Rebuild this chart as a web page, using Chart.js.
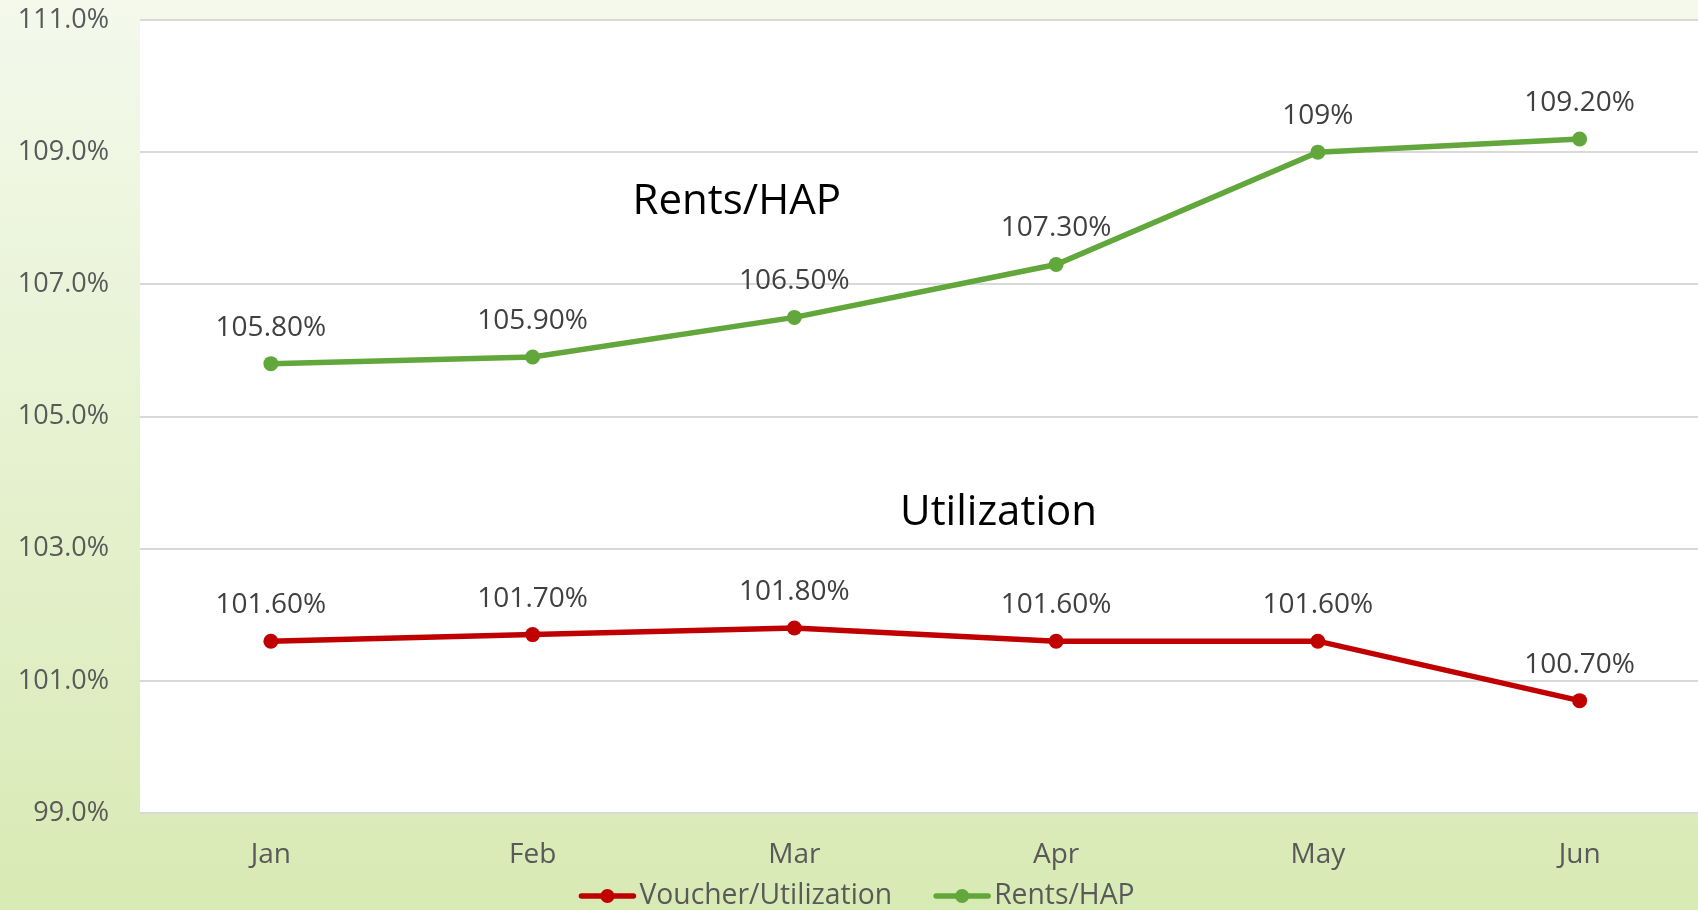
<!DOCTYPE html>
<html>
<head>
<meta charset="utf-8">
<script src="https://cdn.jsdelivr.net/npm/chart.js@4.4.0/dist/chart.umd.min.js"></script>
<style>
  html, body { margin: 0; padding: 0; overflow: hidden; }
  body { width: 1698px; height: 910px; }
  #wrap { position: relative; width: 1718px; height: 910px; }
</style>
</head>
<body>
<div id="wrap"><canvas id="chart"></canvas></div>
<script>
/* ── DATA ── */
const months       = ['Jan', 'Feb', 'Mar', 'Apr', 'May', 'Jun'];
const voucherUtil  = [101.6, 101.7, 101.8, 101.6, 101.6, 100.7];
const rentsHap     = [105.8, 105.9, 106.5, 107.3, 109.0, 109.2];
const voucherText  = ['101.60%', '101.70%', '101.80%', '101.60%', '101.60%', '100.70%'];
const rentsText    = ['105.80%', '105.90%', '106.50%', '107.30%', '109%', '109.20%'];
const yTicks       = [99, 101, 103, 105, 107, 109, 111];

// free-floating captions (category index, value)
const captions = [
  { text: 'Rents/HAP',   x: 1.78, y: 108.24 },
  { text: 'Utilization', x: 2.78, y: 103.54 }
];

const RED   = '#C00000';
const GREEN = '#62A73B';
const FONT  = "'Open Sans', 'Liberation Sans', sans-serif";

/* ── PLUGINS ── */
const bgPlugin = {
  id: 'bgFill',
  beforeDraw(chart) {
    const { ctx, width, height, chartArea: a } = chart;
    const g = ctx.createLinearGradient(0, 0, 0, height);
    g.addColorStop(0, '#f4f9ec');
    g.addColorStop(1, '#d8eab4');
    ctx.save();
    ctx.fillStyle = g;
    ctx.fillRect(0, 0, width, height);
    ctx.fillStyle = '#ffffff';
    ctx.fillRect(a.left, a.top, a.right - a.left, a.bottom - a.top);
    ctx.restore();
  }
};

const labelPlugin = {
  id: 'pointLabels',
  afterDatasetsDraw(chart) {
    const { ctx } = chart;
    ctx.save();
    ctx.font = `28px ${FONT}`;
    ctx.fillStyle = '#404040';
    ctx.textAlign = 'center';
    ctx.textBaseline = 'middle';
    chart.data.datasets.forEach((ds, di) => {
      const meta = chart.getDatasetMeta(di);
      meta.data.forEach((pt, i) => {
        ctx.fillText(ds.valueText[i], pt.x, pt.y - 36);
      });
    });

    const xs = chart.scales.x, ys = chart.scales.y;
    ctx.font = `42px ${FONT}`;
    ctx.fillStyle = '#000000';
    captions.forEach(c => {
      ctx.fillText(c.text, xs.getPixelForValue(c.x), ys.getPixelForValue(c.y));
    });
    ctx.restore();
  }
};

const legendPlugin = {
  id: 'lineLegend',
  afterDraw(chart) {
    const { ctx } = chart;
    const lineW = 56, gap = 4, itemGap = 42, cy = 896, centerX = 857;
    ctx.save();
    ctx.font = `28.3px ${FONT}`;
    ctx.textBaseline = 'middle';
    const items = chart.data.datasets.map(ds => ({
      label: ds.label, color: ds.borderColor, w: lineW + gap + ctx.measureText(ds.label).width
    }));
    const total = items.reduce((s, it) => s + it.w, 0) + itemGap * (items.length - 1);
    let x = centerX - total / 2;
    items.forEach(it => {
      ctx.strokeStyle = it.color;
      ctx.lineWidth = 5.5;
      ctx.lineCap = 'round';
      ctx.beginPath();
      ctx.moveTo(x + 2, cy);
      ctx.lineTo(x + lineW - 2, cy);
      ctx.stroke();
      ctx.fillStyle = it.color;
      ctx.beginPath();
      ctx.arc(x + lineW / 2, cy, 7, 0, Math.PI * 2);
      ctx.fill();
      ctx.fillStyle = '#595959';
      ctx.textAlign = 'left';
      ctx.fillText(it.label, x + lineW + gap, cy);
      x += it.w + itemGap;
    });
    ctx.restore();
  }
};

/* ── CHART ── */
new Chart(document.getElementById('chart').getContext('2d'), {
  type: 'line',
  plugins: [bgPlugin, labelPlugin, legendPlugin],
  data: {
    labels: months,
    datasets: [
      {
        label: 'Voucher/Utilization',
        data: voucherUtil,
        valueText: voucherText,
        borderColor: RED,
        backgroundColor: RED,
        borderWidth: 5.5,
        pointRadius: 7.5,
        pointBorderWidth: 0,
        tension: 0
      },
      {
        label: 'Rents/HAP',
        data: rentsHap,
        valueText: rentsText,
        borderColor: GREEN,
        backgroundColor: GREEN,
        borderWidth: 5.5,
        pointRadius: 7.5,
        pointBorderWidth: 0,
        tension: 0
      }
    ]
  },
  options: {
    responsive: true,
    maintainAspectRatio: false,
    animation: false,
    layout: { padding: { top: 20, right: 2, bottom: 0, left: 0 } },
    plugins: {
      legend: { display: false },
      tooltip: { enabled: false }
    },
    scales: {
      x: {
        offset: true,
        grid: { display: false },
        border: { display: false },
        afterFit: s => { s.height = 97; s.paddingLeft = 0; s.paddingRight = 0; },
        ticks: { color: '#595959', padding: 17, font: { size: 28, family: FONT } }
      },
      y: {
        min: 99,
        max: 111,
        afterFit: s => { s.width = 140; s.paddingTop = 0; s.paddingBottom = 0; },
        afterBuildTicks: s => { s.ticks = yTicks.map(v => ({ value: v })); },
        grid: { color: '#d9d9d9', lineWidth: 2, drawTicks: false },
        border: { display: false },
        ticks: {
          color: '#595959',
          padding: 31,
          font: { size: 27, family: FONT },
          callback: v => v.toFixed(1) + '%'
        }
      }
    }
  }
});
</script>
</body>
</html>
